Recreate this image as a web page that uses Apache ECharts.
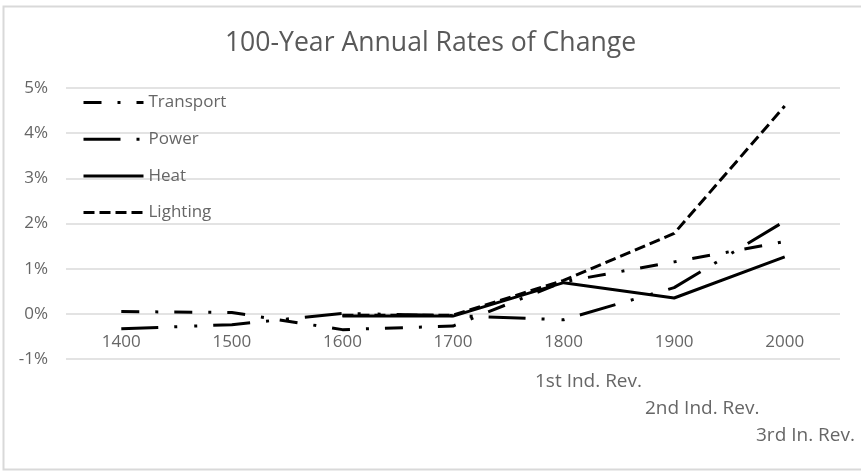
<!DOCTYPE html>
<html>
<head>
<meta charset="utf-8">
<script src="https://cdn.jsdelivr.net/npm/echarts@6/dist/echarts.min.js"></script>
<style>
  html, body { margin: 0; padding: 0; background: #fff; }
  #chart { width: 861px; height: 471px; }
</style>
</head>
<body>
<div id="chart"></div>
<script>
// Century marks on the horizontal axis
const years = ['1400', '1500', '1600', '1700', '1800', '1900', '2000'];

// Annual rate of change over each 100-year period, in percent
const transport = [0.05, 0.03, -0.35, -0.27, 0.71, 1.15, 1.60];
const power     = [-0.33, -0.24, 0.01, -0.04, -0.13, 0.58, 2.05];
const heat      = [null, null, -0.05, -0.05, 0.69, 0.35, 1.26];
const lighting  = [null, null, -0.03, -0.03, 0.74, 1.78, 4.60];

// Value axis range and step (percent)
const yMin = -1, yMax = 5, yStep = 1;

// Text notes placed below the axis
const revolutions = ['1st Ind. Rev.', '2nd Ind. Rev.', '3rd In. Rev.'];

const FONT = '"Open Sans", "Noto Sans", sans-serif';
const GREY = '#666666';
const GRID_GREY = '#dadada';

// Plot area (pixels)
const GRID_TOP = 88, GRID_BOTTOM = 112, CHART_H = 471;
const plotH = CHART_H - GRID_TOP - GRID_BOTTOM;
// lift the category axis from the bottom edge up to the 0% line
const zeroLift = -plotH * (0 - yMin) / (yMax - yMin);

function lineSeries(name, data, dash) {
  return {
    name: name,
    type: 'line',
    data: data,
    symbol: 'none',
    connectNulls: false,
    lineStyle: { color: '#000', width: 3, type: dash, cap: 'butt' },
    // no point markers, also keeps the legend swatch a plain line
    itemStyle: { color: '#000', opacity: 0 },
    emphasis: { disabled: true }
  };
}

const chart = echarts.init(document.getElementById('chart'), null, { renderer: 'canvas' });

chart.setOption({
  animation: false,
  backgroundColor: '#fff',
  title: {
    text: '100-Year Annual Rates of Change',
    left: 'center',
    top: 25,
    textStyle: { fontFamily: FONT, fontSize: 26.6, fontWeight: 'normal', color: '#595959' }
  },
  legend: {
    orient: 'vertical',
    left: 77,
    top: 89,
    padding: 5,
    itemWidth: 60,
    itemHeight: 18,
    itemGap: 19.7,
    selectedMode: false,
    itemStyle: { opacity: 0 },
    lineStyle: { width: 3 },
    textStyle: { fontFamily: FONT, fontSize: 17, color: GREY },
    data: ['Transport', 'Power', 'Heat', 'Lighting']
  },
  grid: { left: 66, right: 21, top: GRID_TOP, bottom: GRID_BOTTOM, containLabel: false },
  xAxis: {
    type: 'category',
    data: years,
    boundaryGap: true,
    position: 'bottom',
    offset: zeroLift,
    axisLine: { show: false, onZero: false },
    axisTick: { show: false },
    axisLabel: { margin: 20, fontFamily: FONT, fontSize: 17, color: GREY },
    splitLine: { show: false }
  },
  yAxis: {
    type: 'value',
    min: yMin,
    max: yMax,
    interval: yStep,
    axisLine: { show: false },
    axisTick: { show: false },
    axisLabel: {
      margin: 18,
      fontFamily: FONT,
      fontSize: 17,
      color: GREY,
      formatter: '{value}%'
    },
    splitLine: { lineStyle: { color: GRID_GREY, width: 1.5 } }
  },
  series: [
    lineSeries('Transport', transport, [18, 16, 3, 16]),
    lineSeries('Power', power, [37, 16, 3, 17, 3, 16]),
    lineSeries('Heat', heat, 'solid'),
    lineSeries('Lighting', lighting, [11, 5])
  ],
  graphic: [
    {
      type: 'rect',
      silent: true,
      shape: { x: 3.5, y: 6.5, width: 900, height: 463 },
      style: { fill: 'none', stroke: '#d9d9d9', lineWidth: 2 }
    },
    {
      type: 'text', left: 535, top: 372, silent: true,
      style: { text: revolutions[0], font: '19px ' + FONT, fill: GREY }
    },
    {
      type: 'text', left: 645, top: 399, silent: true,
      style: { text: revolutions[1], font: '19px ' + FONT, fill: GREY }
    },
    {
      type: 'text', left: 756, top: 426, silent: true,
      style: { text: revolutions[2], font: '19px ' + FONT, fill: GREY }
    }
  ]
});
</script>
</body>
</html>
